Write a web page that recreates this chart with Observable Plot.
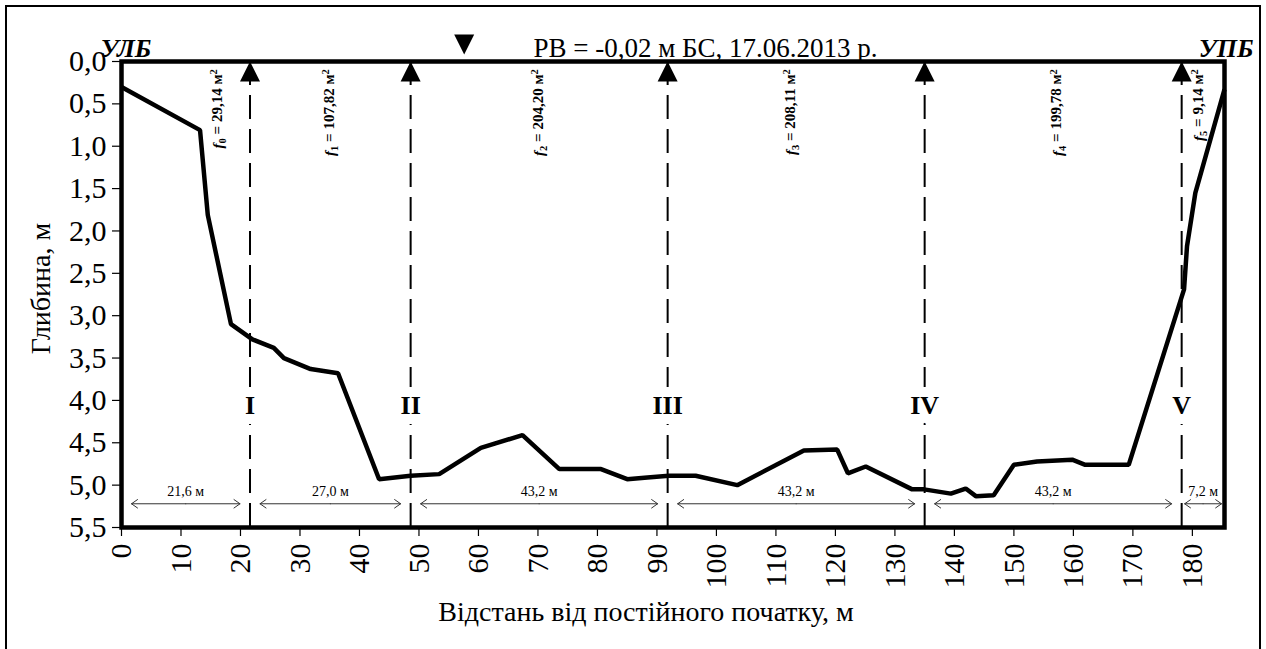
<!DOCTYPE html>
<html>
<head>
<meta charset="utf-8">
<script src="https://cdn.jsdelivr.net/npm/d3@7"></script>
<script src="https://cdn.jsdelivr.net/npm/@observablehq/plot@0.6"></script>
<style>
  html, body { margin: 0; padding: 0; background: #fff; }
  #wrap { position: relative; width: 1266px; height: 649px; overflow: hidden; }
  #border { position: absolute; left: 5px; top: 5px; width: 1252px; height: 700px; border: 2px solid #000; pointer-events: none; }
  #chart { position: absolute; left: 0; top: 0; }
  #chart svg, #chart svg text { font-family: "Liberation Serif", "DejaVu Serif", serif !important; font-variant: normal !important; }
</style>
</head>
<body>
<div id="wrap"><div id="chart"></div><div id="border"></div></div>
<script>
// Measured river cross-section: distance from the permanent start (m) and depth (m)
const distance = [0, 13.2, 14.5, 18.4, 22.0, 25.6, 27.3, 31.8, 36.4, 43.3, 48.6, 53.4, 60.4, 67.4,
  73.6, 80.6, 85.0, 88.4, 92.0, 96.5, 103.5, 114.7, 120.3, 122.1, 125.1, 132.9, 134.9, 139.4,
  141.9, 143.6, 146.6, 150.0, 153.9, 159.8, 162.0, 169.3, 178.6, 179.1, 180.5, 185.4];
const depth = [0.30, 0.81, 1.81, 3.10, 3.28, 3.38, 3.50, 3.63, 3.68, 4.93, 4.89, 4.87, 4.56, 4.41,
  4.81, 4.81, 4.93, 4.91, 4.89, 4.89, 5.00, 4.59, 4.58, 4.86, 4.78, 5.05, 5.05, 5.10,
  5.04, 5.13, 5.12, 4.76, 4.72, 4.70, 4.76, 4.76, 2.69, 2.18, 1.55, 0.33];

// Sub-areas between the velocity verticals: widths (m) and areas (m²)
const segWidth = [21.6, 27.0, 43.2, 43.2, 43.2, 7.2];
const segArea = [29.14, 107.82, 204.20, 208.11, 199.78, 9.14];
// where each area label sits along the section (m)
const areaLabelAt = [16.3, 35.1, 70.2, 112.6, 157.4, 181.2];
const verticalNames = ["I", "II", "III", "IV", "V"];

// Water level marker and header texts
const waterMarkAt = 57.6;
const headerText = "РВ = -0,02 м БС, 17.06.2013 р.";
const leftBank = "УЛБ";
const rightBank = "УПБ";
const yLabel = "Глибина, м";
const xLabel = "Відстань від постійного початку, м";

const xTicks = d3.range(0, 181, 10);
const yTicks = [0, 0.5, 1, 1.5, 2, 2.5, 3, 3.5, 4, 4.5, 5, 5.5];

// Derived tables
const profile = distance.map((d, i) => ({distance: d, depth: depth[i]}));
const bounds = [0];
segWidth.forEach(w => bounds.push(+(bounds[bounds.length - 1] + w).toFixed(1)));
const xMax = bounds[bounds.length - 1];
const verticals = verticalNames.map((name, i) => ({name, at: bounds[i + 1]}));
const subs = "₀₁₂₃₄₅₆₇₈₉";
const comma = (v, k) => v.toFixed(k).replace(".", ",");
const segments = segWidth.map((w, i) => ({
  left: bounds[i], right: bounds[i + 1], mid: (bounds[i] + bounds[i + 1]) / 2,
  width: w, narrow: w < 10,
  widthLabel: `${comma(w, 1)} м`,
  areaLabel: `f${subs[i]} = ${comma(segArea[i], 2)} м²`,
  labelAt: areaLabelAt[i]
}));
const halfArrows = segments.flatMap(s => [
  {x1: s.mid, x2: s.left, narrow: s.narrow},
  {x1: s.mid, x2: s.right, narrow: s.narrow}
]);

const arrowDepth = 5.22, widthLabelDepth = 5.07, nameDepth = 4.06, areaLabelDepth = 0.09;
const tickFont = 30;

// Triangle with its tip at the origin: pointing up (dir = 1) or down (dir = -1)
const tipTriangle = dir => ({
  draw(ctx, size) {
    const w = 2 * Math.sqrt(size / Math.PI);
    const h = w * 1.0;
    ctx.moveTo(0, 0);
    ctx.lineTo(w / 2, dir * h);
    ctx.lineTo(-w / 2, dir * h);
    ctx.closePath();
  }
});

const serif = "Liberation Serif, DejaVu Serif, serif";

const chart = Plot.plot({
  width: 1266,
  height: 649,
  marginLeft: 121,
  marginRight: 42,
  marginTop: 61,
  marginBottom: 122,
  style: {fontFamily: serif, background: "transparent", color: "#000", overflow: "visible"},
  x: {domain: [0, xMax]},
  y: {domain: [0, 5.5], reverse: true},
  marks: [
    Plot.axisY({ticks: yTicks, tickFormat: d => comma(d, 1), tickSize: 9, tickPadding: 6,
      fontSize: tickFont, strokeWidth: 1.2, label: null}),
    Plot.axisX({ticks: xTicks, tickRotate: -90, tickSize: 9, tickPadding: 7,
      fontSize: tickFont, strokeWidth: 1.2, label: null}),

    // velocity verticals
    Plot.ruleX(verticals, {x: "at", stroke: "#000", strokeWidth: 2, strokeDasharray: "24,10"}),

    // width dimension arrows
    Plot.arrow(halfArrows.filter(d => !d.narrow), {x1: "x1", x2: "x2", y1: () => arrowDepth, y2: () => arrowDepth,
      stroke: "#333", strokeWidth: 1, headLength: 11, headAngle: 70, insetEnd: 10}),
    Plot.arrow(halfArrows.filter(d => d.narrow), {x1: "x1", x2: "x2", y1: () => arrowDepth, y2: () => arrowDepth,
      stroke: "#333", strokeWidth: 1, headLength: 11, headAngle: 70, insetEnd: 3}),
    Plot.text(segments, {x: "mid", y: () => widthLabelDepth, text: "widthLabel",
      fontSize: 14, fill: "#000"}),

    // bottom profile
    Plot.line(profile, {x: "distance", y: "depth", stroke: "#000", strokeWidth: 4.5,
      strokeLinejoin: "miter", strokeLinecap: "butt"}),

    Plot.frame({stroke: "#000", strokeWidth: 4.5}),

    // arrowheads at the top of each vertical
    Plot.dot(verticals, {x: "at", y: () => 0, symbol: tipTriangle(1), r: 10, fill: "#000", stroke: null}),

    // vertical names with a white gap in the dashed line
    Plot.text(verticals, {x: "at", y: () => nameDepth, text: "name", fontSize: 26, fontWeight: "bold",
      fill: "#000", stroke: "#fff", strokeWidth: 20, strokeLinejoin: "round", paintOrder: "stroke"}),

    // sub-area labels
    Plot.text(segments, {x: "labelAt", y: () => areaLabelDepth, text: "areaLabel", rotate: -90,
      textAnchor: "end", fontSize: 15, fontWeight: "bold", fill: "#000"}),

    // water level marker
    Plot.dot([waterMarkAt], {x: d => d, y: () => 0, dy: -7, symbol: tipTriangle(-1), r: 10, fill: "#000", stroke: null}),

    // header texts
    Plot.text([headerText], {frameAnchor: "top-left", text: d => d, textAnchor: "start",
      dx: 412, dy: -24, fontSize: 27}),
    Plot.text([leftBank], {frameAnchor: "top-left", text: d => d, textAnchor: "start",
      dx: -21, dy: -23, fontSize: 26, fontWeight: "bold", fontStyle: "italic"}),
    Plot.text([rightBank], {frameAnchor: "top-right", text: d => d, textAnchor: "end",
      dx: 29, dy: -23, fontSize: 26, fontWeight: "bold", fontStyle: "italic"}),

    // axis titles
    Plot.text([yLabel], {frameAnchor: "left", text: d => d, rotate: -90, textAnchor: "middle",
      dx: -80, dy: -6, fontSize: 28}),
    Plot.text([xLabel], {frameAnchor: "bottom", text: d => d, textAnchor: "middle",
      dx: -27, dy: 93, fontSize: 28})
  ]
});

// Make sure both axes' tick labels use the same size
d3.select(chart).selectAll('g[aria-label$="tick label"]').attr("font-size", tickFont);

// Typeset the area labels: italic f, subscript index, superscript square
d3.select(chart).selectAll("text").each(function () {
  const m = /^f([₀-₉]) = (.+) м²$/.exec(this.textContent);
  if (!m) return;
  const t = d3.select(this).text(null);
  t.append("tspan").attr("font-style", "italic").text("f");
  t.append("tspan").attr("font-size", "70%").attr("dy", "0.3em").text(String(subs.indexOf(m[1])));
  t.append("tspan").attr("dy", "-0.3em").text(` = ${m[2]} м`);
  t.append("tspan").attr("font-size", "70%").attr("dy", "-0.45em").text("2");
});

document.getElementById("chart").appendChild(chart);
</script>
</body>
</html>
